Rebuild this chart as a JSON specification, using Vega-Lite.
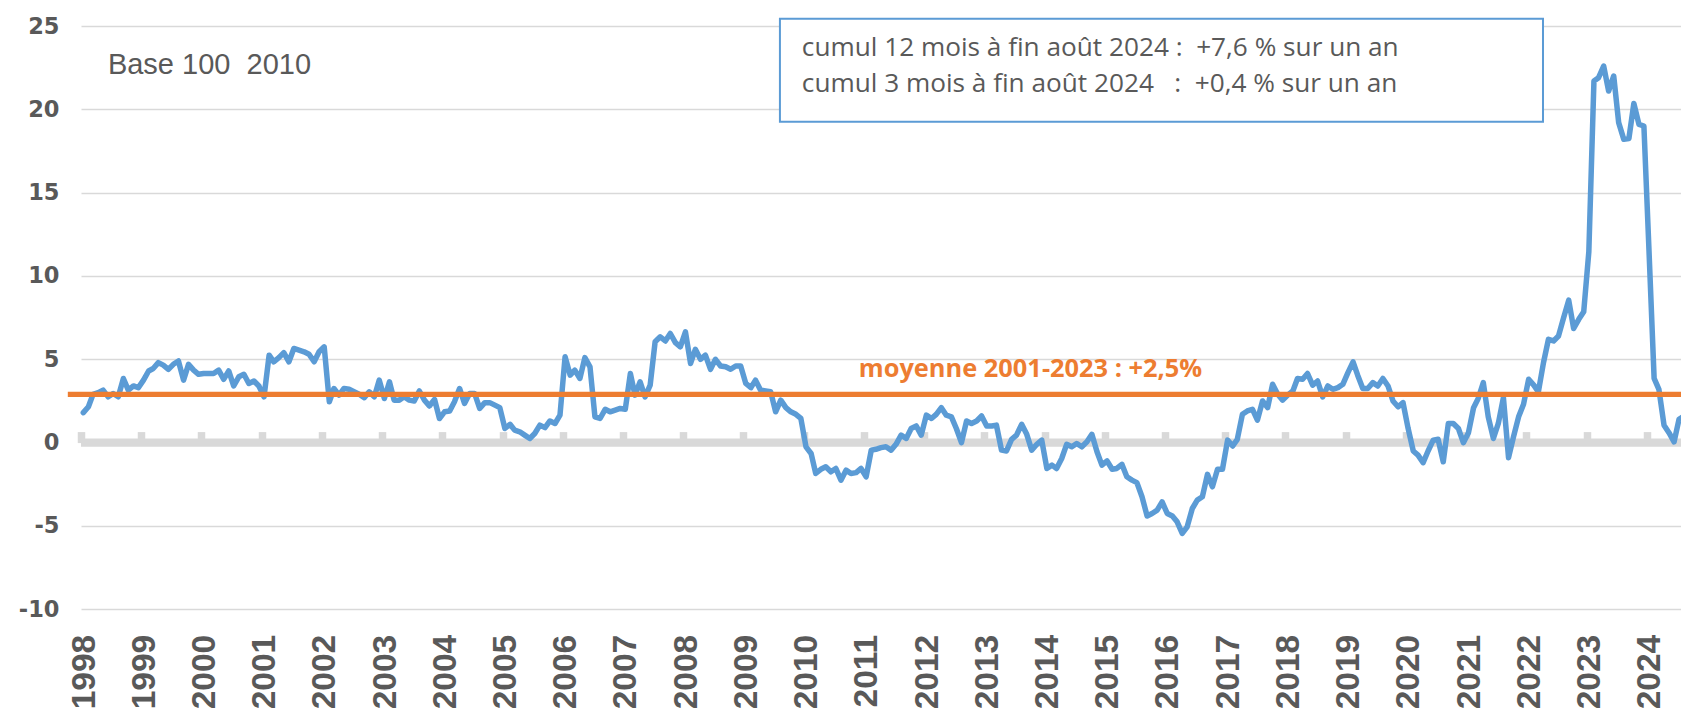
{
"$schema":"https://vega.github.io/schema/vega-lite/v6.json",
"width":1600,"height":583.3,
"autosize":{"type":"none"},
"padding":{"left":81,"top":26,"right":0,"bottom":100.7},
"background":"white",
"config":{"view":{"stroke":null}},
"datasets":{"serie":[
{"d":"1998-01-15","v":1.8},{"d":"1998-02-15","v":2.15},{"d":"1998-03-15","v":2.9},{"d":"1998-04-15","v":3.0},{"d":"1998-05-15","v":3.15},{"d":"1998-06-15","v":2.75},{"d":"1998-07-15","v":2.95},{"d":"1998-08-15","v":2.75},{"d":"1998-09-15","v":3.85},{"d":"1998-10-15","v":3.15},{"d":"1998-11-15","v":3.4},{"d":"1998-12-15","v":3.3},
{"d":"1999-01-15","v":3.75},{"d":"1999-02-15","v":4.3},{"d":"1999-03-15","v":4.45},{"d":"1999-04-15","v":4.8},{"d":"1999-05-15","v":4.65},{"d":"1999-06-15","v":4.4},{"d":"1999-07-15","v":4.7},{"d":"1999-08-15","v":4.9},{"d":"1999-09-15","v":3.75},{"d":"1999-10-15","v":4.7},{"d":"1999-11-15","v":4.35},{"d":"1999-12-15","v":4.1},
{"d":"2000-01-15","v":4.15},{"d":"2000-02-15","v":4.15},{"d":"2000-03-15","v":4.15},{"d":"2000-04-15","v":4.35},{"d":"2000-05-15","v":3.8},{"d":"2000-06-15","v":4.3},{"d":"2000-07-15","v":3.4},{"d":"2000-08-15","v":3.95},{"d":"2000-09-15","v":4.1},{"d":"2000-10-15","v":3.55},{"d":"2000-11-15","v":3.7},{"d":"2000-12-15","v":3.4},
{"d":"2001-01-15","v":2.75},{"d":"2001-02-15","v":5.25},{"d":"2001-03-15","v":4.85},{"d":"2001-04-15","v":5.1},{"d":"2001-05-15","v":5.4},{"d":"2001-06-15","v":4.85},{"d":"2001-07-15","v":5.65},{"d":"2001-08-15","v":5.55},{"d":"2001-09-15","v":5.45},{"d":"2001-10-15","v":5.3},{"d":"2001-11-15","v":4.85},{"d":"2001-12-15","v":5.45},
{"d":"2002-01-15","v":5.75},{"d":"2002-02-15","v":2.45},{"d":"2002-03-15","v":3.25},{"d":"2002-04-15","v":2.85},{"d":"2002-05-15","v":3.25},{"d":"2002-06-15","v":3.2},{"d":"2002-07-15","v":3.05},{"d":"2002-08-15","v":2.9},{"d":"2002-09-15","v":2.7},{"d":"2002-10-15","v":3.05},{"d":"2002-11-15","v":2.75},{"d":"2002-12-15","v":3.75},
{"d":"2003-01-15","v":2.65},{"d":"2003-02-15","v":3.65},{"d":"2003-03-15","v":2.55},{"d":"2003-04-15","v":2.55},{"d":"2003-05-15","v":2.75},{"d":"2003-06-15","v":2.55},{"d":"2003-07-15","v":2.5},{"d":"2003-08-15","v":3.1},{"d":"2003-09-15","v":2.55},{"d":"2003-10-15","v":2.2},{"d":"2003-11-15","v":2.6},{"d":"2003-12-15","v":1.45},
{"d":"2004-01-15","v":1.85},{"d":"2004-02-15","v":1.9},{"d":"2004-03-15","v":2.45},{"d":"2004-04-15","v":3.25},{"d":"2004-05-15","v":2.35},{"d":"2004-06-15","v":2.95},{"d":"2004-07-15","v":2.95},{"d":"2004-08-15","v":2.05},{"d":"2004-09-15","v":2.4},{"d":"2004-10-15","v":2.4},{"d":"2004-11-15","v":2.25},{"d":"2004-12-15","v":2.1},
{"d":"2005-01-15","v":0.85},{"d":"2005-02-15","v":1.1},{"d":"2005-03-15","v":0.75},{"d":"2005-04-15","v":0.65},{"d":"2005-05-15","v":0.45},{"d":"2005-06-15","v":0.25},{"d":"2005-07-15","v":0.55},{"d":"2005-08-15","v":1.05},{"d":"2005-09-15","v":0.9},{"d":"2005-10-15","v":1.3},{"d":"2005-11-15","v":1.15},{"d":"2005-12-15","v":1.65},
{"d":"2006-01-15","v":5.15},{"d":"2006-02-15","v":4.05},{"d":"2006-03-15","v":4.35},{"d":"2006-04-15","v":3.85},{"d":"2006-05-15","v":5.1},{"d":"2006-06-15","v":4.55},{"d":"2006-07-15","v":1.55},{"d":"2006-08-15","v":1.45},{"d":"2006-09-15","v":2.0},{"d":"2006-10-15","v":1.85},{"d":"2006-11-15","v":1.95},{"d":"2006-12-15","v":2.05},
{"d":"2007-01-15","v":2.0},{"d":"2007-02-15","v":4.15},{"d":"2007-03-15","v":2.85},{"d":"2007-04-15","v":3.65},{"d":"2007-05-15","v":2.75},{"d":"2007-06-15","v":3.45},{"d":"2007-07-15","v":6.05},{"d":"2007-08-15","v":6.35},{"d":"2007-09-15","v":6.1},{"d":"2007-10-15","v":6.55},{"d":"2007-11-15","v":6.0},{"d":"2007-12-15","v":5.75},
{"d":"2008-01-15","v":6.65},{"d":"2008-02-15","v":4.75},{"d":"2008-03-15","v":5.6},{"d":"2008-04-15","v":5.0},{"d":"2008-05-15","v":5.25},{"d":"2008-06-15","v":4.4},{"d":"2008-07-15","v":5.0},{"d":"2008-08-15","v":4.6},{"d":"2008-09-15","v":4.55},{"d":"2008-10-15","v":4.4},{"d":"2008-11-15","v":4.6},{"d":"2008-12-15","v":4.6},
{"d":"2009-01-15","v":3.55},{"d":"2009-02-15","v":3.3},{"d":"2009-03-15","v":3.75},{"d":"2009-04-15","v":3.15},{"d":"2009-05-15","v":3.1},{"d":"2009-06-15","v":3.05},{"d":"2009-07-15","v":1.85},{"d":"2009-08-15","v":2.55},{"d":"2009-09-15","v":2.1},{"d":"2009-10-15","v":1.85},{"d":"2009-11-15","v":1.7},{"d":"2009-12-15","v":1.45},
{"d":"2010-01-15","v":-0.25},{"d":"2010-02-15","v":-0.65},{"d":"2010-03-15","v":-1.85},{"d":"2010-04-15","v":-1.6},{"d":"2010-05-15","v":-1.45},{"d":"2010-06-15","v":-1.75},{"d":"2010-07-15","v":-1.55},{"d":"2010-08-15","v":-2.25},{"d":"2010-09-15","v":-1.65},{"d":"2010-10-15","v":-1.85},{"d":"2010-11-15","v":-1.8},{"d":"2010-12-15","v":-1.55},
{"d":"2011-01-15","v":-2.05},{"d":"2011-02-15","v":-0.45},{"d":"2011-03-15","v":-0.4},{"d":"2011-04-15","v":-0.3},{"d":"2011-05-15","v":-0.25},{"d":"2011-06-15","v":-0.45},{"d":"2011-07-15","v":-0.1},{"d":"2011-08-15","v":0.45},{"d":"2011-09-15","v":0.25},{"d":"2011-10-15","v":0.85},{"d":"2011-11-15","v":1.0},{"d":"2011-12-15","v":0.45},
{"d":"2012-01-15","v":1.65},{"d":"2012-02-15","v":1.45},{"d":"2012-03-15","v":1.7},{"d":"2012-04-15","v":2.1},{"d":"2012-05-15","v":1.65},{"d":"2012-06-15","v":1.55},{"d":"2012-07-15","v":0.85},{"d":"2012-08-15","v":0.0},{"d":"2012-09-15","v":1.3},{"d":"2012-10-15","v":1.15},{"d":"2012-11-15","v":1.3},{"d":"2012-12-15","v":1.6},
{"d":"2013-01-15","v":1.0},{"d":"2013-02-15","v":1.0},{"d":"2013-03-15","v":1.05},{"d":"2013-04-15","v":-0.45},{"d":"2013-05-15","v":-0.5},{"d":"2013-06-15","v":0.2},{"d":"2013-07-15","v":0.45},{"d":"2013-08-15","v":1.1},{"d":"2013-09-15","v":0.5},{"d":"2013-10-15","v":-0.45},{"d":"2013-11-15","v":-0.1},{"d":"2013-12-15","v":0.15},
{"d":"2014-01-15","v":-1.55},{"d":"2014-02-15","v":-1.35},{"d":"2014-03-15","v":-1.55},{"d":"2014-04-15","v":-0.95},{"d":"2014-05-15","v":-0.1},{"d":"2014-06-15","v":-0.25},{"d":"2014-07-15","v":-0.05},{"d":"2014-08-15","v":-0.25},{"d":"2014-09-15","v":0.05},{"d":"2014-10-15","v":0.5},{"d":"2014-11-15","v":-0.55},{"d":"2014-12-15","v":-1.35},
{"d":"2015-01-15","v":-1.1},{"d":"2015-02-15","v":-1.6},{"d":"2015-03-15","v":-1.55},{"d":"2015-04-15","v":-1.3},{"d":"2015-05-15","v":-2.05},{"d":"2015-06-15","v":-2.25},{"d":"2015-07-15","v":-2.4},{"d":"2015-08-15","v":-3.25},{"d":"2015-09-15","v":-4.4},{"d":"2015-10-15","v":-4.25},{"d":"2015-11-15","v":-4.05},{"d":"2015-12-15","v":-3.55},
{"d":"2016-01-15","v":-4.25},{"d":"2016-02-15","v":-4.4},{"d":"2016-03-15","v":-4.75},{"d":"2016-04-15","v":-5.45},{"d":"2016-05-15","v":-5.05},{"d":"2016-06-15","v":-3.95},{"d":"2016-07-15","v":-3.45},{"d":"2016-08-15","v":-3.25},{"d":"2016-09-15","v":-1.9},{"d":"2016-10-15","v":-2.65},{"d":"2016-11-15","v":-1.6},{"d":"2016-12-15","v":-1.6},
{"d":"2017-01-15","v":0.15},{"d":"2017-02-15","v":-0.2},{"d":"2017-03-15","v":0.2},{"d":"2017-04-15","v":1.7},{"d":"2017-05-15","v":1.9},{"d":"2017-06-15","v":2.0},{"d":"2017-07-15","v":1.35},{"d":"2017-08-15","v":2.5},{"d":"2017-09-15","v":2.1},{"d":"2017-10-15","v":3.5},{"d":"2017-11-15","v":2.9},{"d":"2017-12-15","v":2.55},
{"d":"2018-01-15","v":2.85},{"d":"2018-02-15","v":3.1},{"d":"2018-03-15","v":3.85},{"d":"2018-04-15","v":3.8},{"d":"2018-05-15","v":4.15},{"d":"2018-06-15","v":3.45},{"d":"2018-07-15","v":3.7},{"d":"2018-08-15","v":2.75},{"d":"2018-09-15","v":3.4},{"d":"2018-10-15","v":3.2},{"d":"2018-11-15","v":3.3},{"d":"2018-12-15","v":3.5},
{"d":"2019-01-15","v":4.2},{"d":"2019-02-15","v":4.85},{"d":"2019-03-15","v":4.05},{"d":"2019-04-15","v":3.25},{"d":"2019-05-15","v":3.25},{"d":"2019-06-15","v":3.6},{"d":"2019-07-15","v":3.4},{"d":"2019-08-15","v":3.85},{"d":"2019-09-15","v":3.4},{"d":"2019-10-15","v":2.5},{"d":"2019-11-15","v":2.15},{"d":"2019-12-15","v":2.4},
{"d":"2020-01-15","v":0.85},{"d":"2020-02-15","v":-0.5},{"d":"2020-03-15","v":-0.75},{"d":"2020-04-15","v":-1.2},{"d":"2020-05-15","v":-0.5},{"d":"2020-06-15","v":0.15},{"d":"2020-07-15","v":0.2},{"d":"2020-08-15","v":-1.15},{"d":"2020-09-15","v":1.15},{"d":"2020-10-15","v":1.15},{"d":"2020-11-15","v":0.85},{"d":"2020-12-15","v":0.0},
{"d":"2021-01-15","v":0.6},{"d":"2021-02-15","v":2.1},{"d":"2021-03-15","v":2.65},{"d":"2021-04-15","v":3.6},{"d":"2021-05-15","v":1.55},{"d":"2021-06-15","v":0.25},{"d":"2021-07-15","v":1.15},{"d":"2021-08-15","v":2.7},{"d":"2021-09-15","v":-0.9},{"d":"2021-10-15","v":0.35},{"d":"2021-11-15","v":1.55},{"d":"2021-12-15","v":2.3},
{"d":"2022-01-15","v":3.8},{"d":"2022-02-15","v":3.45},{"d":"2022-03-15","v":3.05},{"d":"2022-04-15","v":4.8},{"d":"2022-05-15","v":6.2},{"d":"2022-06-15","v":6.1},{"d":"2022-07-15","v":6.4},{"d":"2022-08-15","v":7.5},{"d":"2022-09-15","v":8.55},{"d":"2022-10-15","v":6.85},{"d":"2022-11-15","v":7.4},{"d":"2022-12-15","v":7.85},
{"d":"2023-01-15","v":11.45},{"d":"2023-02-15","v":21.7},{"d":"2023-03-15","v":21.9},{"d":"2023-04-15","v":22.6},{"d":"2023-05-15","v":21.1},{"d":"2023-06-15","v":22.0},{"d":"2023-07-15","v":19.2},{"d":"2023-08-15","v":18.2},{"d":"2023-09-15","v":18.25},{"d":"2023-10-15","v":20.35},{"d":"2023-11-15","v":19.1},{"d":"2023-12-15","v":19.0},
{"d":"2024-01-15","v":11.5},{"d":"2024-02-15","v":3.85},{"d":"2024-03-15","v":3.2},{"d":"2024-04-15","v":1.05},{"d":"2024-05-15","v":0.6},{"d":"2024-06-15","v":0.05},{"d":"2024-07-15","v":1.4},{"d":"2024-08-15","v":1.6}
]},
"layer":[
{"data":{"values":[{}]},
 "mark":{"type":"rule","color":"#d9d9d9","strokeWidth":8.4},
 "encoding":{"y":{"datum":0,"type":"quantitative"}}},
{"data":{"name":"serie"},
 "mark":{"type":"line","color":"#5b9bd5","strokeWidth":5.5,"strokeJoin":"round","strokeCap":"round"},
 "encoding":{
  "x":{"field":"d","type":"temporal",
   "scale":{"domain":[{"year":1998,"month":1,"date":1},{"year":2024,"month":7,"date":27}]},
   "axis":{"orient":"bottom","format":"%Y","tickCount":{"interval":"year","step":1},"title":null,"domain":false,"ticks":false,"grid":false,
    "labelAngle":270,"labelAlign":"right","labelBaseline":"middle","labelPadding":25,"labelOffset":3,
    "labelFont":"Liberation Sans","labelFontWeight":"bold","labelFontSize":33.5,"labelColor":"#595959",
    "labelOverlap":false,"labelFlush":false,"labelBound":false}},
  "y":{"field":"v","type":"quantitative",
   "scale":{"domain":[-10,25],"nice":false,"zero":false},
   "axis":{"values":[-10,-5,0,5,10,15,20,25],"title":null,"domain":false,"ticks":false,"grid":true,"gridColor":"#d9d9d9","gridWidth":1.5,
    "labelExpr":"replace(datum.label, '\u2212', '-')",
    "labelFont":"DejaVu Sans","labelFontWeight":"bold","labelFontSize":22.5,"labelColor":"#595959","labelPadding":22,"labelFlush":false,"labelOverlap":false}}}},
{"data":{"values":[{}]},
 "mark":{"type":"rule","color":"#ed7d31","strokeWidth":5.3},
 "encoding":{
  "x":{"datum":{"year":1997,"month":10,"date":13},"type":"temporal",
   "axis":{"orient":"top","offset":-416.6,"tickCount":{"interval":"year","step":1},"labels":false,"domain":false,"ticks":true,"tickSize":11,"tickWidth":7.5,"tickColor":"#d9d9d9","grid":false,"title":null}},
  "x2":{"datum":{"year":2025,"month":1,"date":1}},
  "y":{"datum":2.9,"type":"quantitative"}}},
{"data":{"values":[{}]},
 "mark":{"type":"rect","fill":"white","stroke":"#5b9bd5","strokeWidth":2},
 "encoding":{
  "x":{"datum":{"year":2009,"month":8,"date":10},"type":"temporal","axis":null},
  "x2":{"datum":{"year":2022,"month":4,"date":12}},
  "y":{"datum":25.43,"type":"quantitative"},
  "y2":{"datum":19.26}}},
{"data":{"values":[{}]},
 "mark":{"type":"text","text":["cumul 12 mois à fin août 2024 :\u00a0 +7,6 % sur un an","cumul 3 mois à fin août 2024 \u00a0 :\u00a0 +0,4 % sur un an"],
  "lineHeight":36,"align":"left","baseline":"alphabetic","font":"Open Sans","fontSize":26.2,"color":"#595959"},
 "encoding":{
  "x":{"datum":{"year":2009,"month":12,"date":21},"type":"temporal","axis":null},
  "y":{"datum":23.19,"type":"quantitative"}}},
{"data":{"values":[{}]},
 "mark":{"type":"text","text":"Base 100\u00a0 2010","align":"left","baseline":"alphabetic","font":"Liberation Sans","fontSize":29,"color":"#595959"},
 "encoding":{
  "x":{"datum":{"year":1998,"month":6,"date":13},"type":"temporal","axis":null},
  "y":{"datum":22.1,"type":"quantitative"}}},
{"data":{"values":[{}]},
 "mark":{"type":"text","text":"moyenne 2001-2023 : +2,5%","align":"left","baseline":"alphabetic","font":"Open Sans","fontWeight":"bold","fontSize":25.4,"color":"#ed7d31"},
 "encoding":{
  "x":{"datum":{"year":2010,"month":12,"date":1},"type":"temporal","axis":null},
  "y":{"datum":3.95,"type":"quantitative"}}}
],
"resolve":{"axis":{"x":"independent"}}
}
